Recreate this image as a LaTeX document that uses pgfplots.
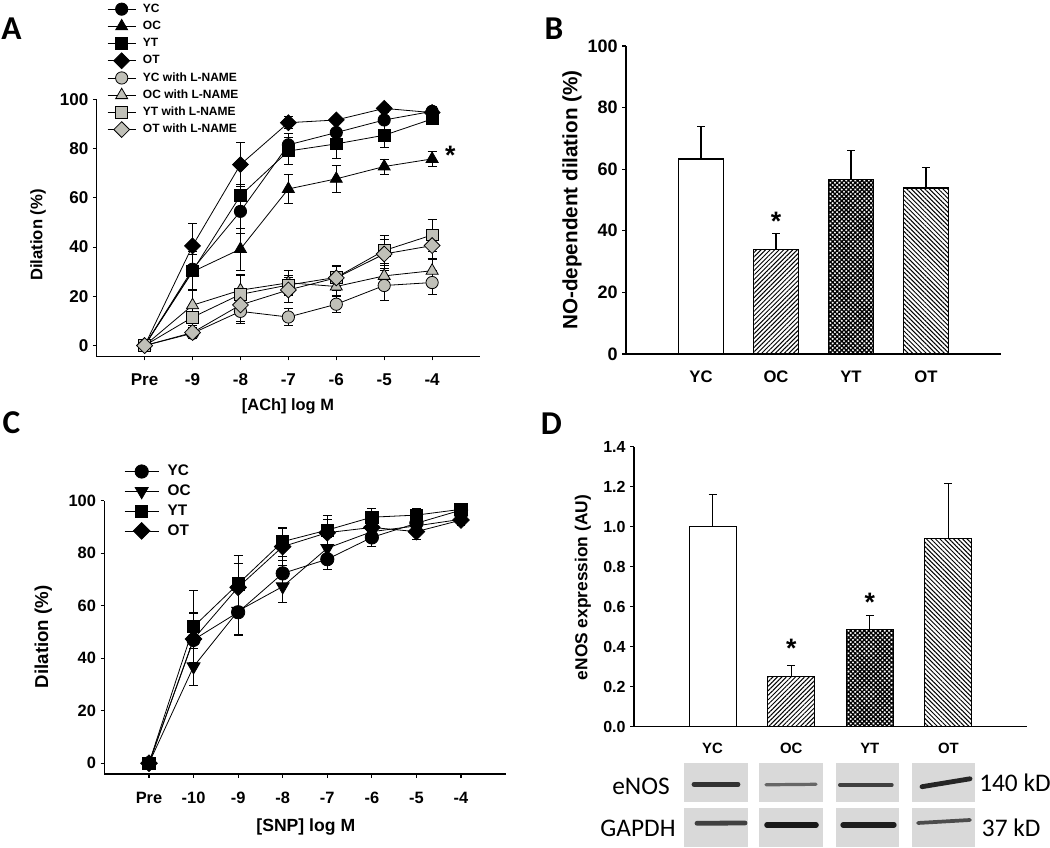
\documentclass[border=0pt]{standalone}
\usepackage{pgfplots}
\pgfplotsset{compat=1.18}
\usepackage{fontspec}
\setmainfont{Liberation Sans}
\newfontfamily\calfont{Carlito}
\usetikzlibrary{patterns.meta}
\definecolor{mg}{RGB}{192,192,184}
\newcommand\fs[1]{\fontsize{#1}{#1}\selectfont}

\pgfplotsset{
 sig/.style={scale only axis, anchor=south west, clip=false,
   axis x line=bottom, axis y line=left,
   axis line style={-, line width=0.9pt, black},
   tick align=outside, major tick length=2.8pt,
   tick style={black, line width=0.8pt},
   legend cell align=left,
 },
 eb/.style={/pgfplots/error bars/y dir=both, /pgfplots/error bars/y explicit,
   /pgfplots/error bars/error bar style={line width=0.6pt, black},
   /pgfplots/error bars/error mark options={rotate=90, mark size=3.3pt, line width=0.6pt, black}},
 ebp/.style={/pgfplots/error bars/y dir=plus, /pgfplots/error bars/y explicit,
   /pgfplots/error bars/error bar style={line width=0.8pt, black},
   /pgfplots/error bars/error mark options={rotate=90, mark size=3pt, line width=0.8pt, black}},
}

\begin{document}
\begin{tikzpicture}
\path[use as bounding box] (0pt,0pt) rectangle (787.5pt,636pt);

% ---------------- Panel A ----------------
\begin{axis}[sig, at={(72.525pt,368.475pt)}, width=287.5pt, height=193.05pt,
 xmin=-1, xmax=7, ymin=-4.5, ymax=100,
 xtick={0,...,6}, xticklabels={Pre,-9,-8,-7,-6,-5,-4},
 ytick={0,20,40,60,80,100}, yticklabels={0,20,40,60,80,100},
 tick label style={font=\bfseries\fs{12.8}},
 xticklabel shift=6.3pt,
 xlabel={[ACh] log M}, ylabel={Dilation (\%)},
 xlabel style={font=\bfseries\fs{12.3}, at={(axis description cs:0.499,-0.194)}, anchor=center},
 ylabel style={font=\bfseries\fs{12.5}, at={(axis description cs:-0.153,0.473)}, anchor=center},
 legend style={at={(0.0269,1.375)}, anchor=north west, draw=none, fill=none,
   inner sep=0pt, font=\bfseries\fs{9}, row sep={12.9pt,between origins},
   column sep={26.25pt,between origins}, nodes={inner sep=0pt}},
 legend image code/.code={\draw[mark repeat=2,mark phase=2,#1] plot coordinates {(0pt,0pt) (10.5pt,0pt) (21pt,0pt)};},
]
\addplot[black, line width=0.6pt, mark=*, mark size=4.6pt, mark options={fill=black, draw=black}, eb]
 coordinates {(0,0) +- (0,0) (1,31.0) +- (0,8) (2,54.5) +- (0,9) (3,81.5) +- (0,4.5) (4,86.5) +- (0,5) (5,91.6) +- (0,4) (6,95.1) +- (0,2)};
\addplot[black, line width=0.6pt, mark=triangle*, mark size=5.2pt, mark options={fill=black, draw=black}, eb]
 coordinates {(0,0) +- (0,0) (1,30.0) +- (0,7) (2,39.2) +- (0,8.5) (3,63.6) +- (0,6) (4,67.7) +- (0,5.5) (5,72.7) +- (0,3) (6,75.8) +- (0,3)};
\addplot[black, line width=0.6pt, mark=square*, mark size=4.4pt, mark options={fill=black, draw=black}, eb]
 coordinates {(0,0) +- (0,0) (1,30.3) +- (0,8) (2,60.9) +- (0,4.5) (3,79.0) +- (0,5.5) (4,81.9) +- (0,6) (5,85.4) +- (0,5) (6,92.0) +- (0,2)};
\addplot[black, line width=0.6pt, mark=square*, mark size=4.2pt, mark options={rotate=45, fill=black, draw=black}, eb]
 coordinates {(0,0) +- (0,0) (1,40.5) +- (0,9) (2,73.5) +- (0,9) (3,90.5) +- (0,2.5) (4,91.6) +- (0,1.5) (5,96.3) +- (0,1.5) (6,94.6) +- (0,1.5)};
\addplot[black, line width=0.6pt, mark=*, mark size=4.6pt, mark options={fill=mg, draw=black}, eb]
 coordinates {(0,0) +- (0,0) (1,5.0) +- (0,2) (2,13.9) +- (0,5) (3,11.6) +- (0,3.5) (4,16.8) +- (0,3.5) (5,24.4) +- (0,6) (6,25.6) +- (0,5)};
\addplot[black, line width=0.6pt, mark=triangle*, mark size=5.2pt, mark options={fill=mg, draw=black}, eb]
 coordinates {(0,0) +- (0,0) (1,16.4) +- (0,6) (2,22.5) +- (0,6) (3,25.5) +- (0,5) (4,24.0) +- (0,4) (5,28.3) +- (0,5) (6,30.4) +- (0,5)};
\addplot[black, line width=0.6pt, mark=square*, mark size=4.4pt, mark options={fill=mg, draw=black}, eb]
 coordinates {(0,0) +- (0,0) (1,11.5) +- (0,3.5) (2,20.8) +- (0,8) (3,24.6) +- (0,4) (4,27.7) +- (0,4.5) (5,38.6) +- (0,6) (6,44.9) +- (0,6.5)};
\addplot[black, line width=0.6pt, mark=square*, mark size=4.2pt, mark options={rotate=45, fill=mg, draw=black}, eb]
 coordinates {(0,0) +- (0,0) (1,5.3) +- (0,2) (2,16.5) +- (0,6.5) (3,22.6) +- (0,5) (4,27.5) +- (0,5) (5,37.2) +- (0,6) (6,40.6) +- (0,5.5)};
\legend{YC,OC,YT,OT,YC with L-NAME,OC with L-NAME,YT with L-NAME,OT with L-NAME}
\node[font=\bfseries\fs{20}, anchor=north, yshift=6.5pt] at (axis cs:6.38,79.4) {*};
\end{axis}

% ---------------- Panel B ----------------
\begin{axis}[sig, at={(469.5pt,370.5pt)}, width=281.25pt, height=231pt,
 xmin=-1, xmax=4, ymin=0, ymax=100,
 xtick={0,1,2,3}, xticklabels={YC,OC,YT,OT}, xtick style={draw=none},
 ytick={0,20,40,60,80,100}, yticklabels={0,20,40,60,80,100},
 xticklabel style={font=\bfseries\fs{12.5}},
 yticklabel style={font=\bfseries\fs{13.5}},
 xticklabel shift=6.5pt,
 ylabel={NO-dependent dilation (\%)},
 label style={font=\bfseries\fs{15.5}},
 ylabel style={at={(axis description cs:-0.144,0.5)}, anchor=center},
]
\addplot[ybar, bar width=33.75pt, bar shift=0pt, draw=black, line width=0.8pt, fill=white, ebp]
 coordinates {(0,63.3) +- (0,10.5)};
\addplot[ybar, bar width=33.75pt, bar shift=0pt, draw=black, line width=0.8pt,
 pattern={Lines[angle=45,distance=2.4pt,line width=0.75pt]}, ebp]
 coordinates {(1,34.0) +- (0,5.0)};
\addplot[ybar, bar width=33.75pt, bar shift=0pt, draw=black, line width=0.8pt,
 pattern={Hatch[angle=45,distance=2.4pt,line width=1pt]}, ebp]
 coordinates {(2,56.5) +- (0,9.5)};
\addplot[ybar, bar width=33.75pt, bar shift=0pt, draw=black, line width=0.8pt,
 pattern={Lines[angle=-45,distance=2.4pt,line width=0.75pt]}, ebp]
 coordinates {(3,53.9) +- (0,6.6)};
\node[font=\bfseries\fs{20}, anchor=north, yshift=6.5pt] at (axis cs:1,44.8) {*};
\end{axis}

% ---------------- Panel C ----------------
\begin{axis}[sig, at={(78.3pt,55.5pt)}, width=300.9pt, height=205pt,
 xmin=-1, xmax=8, ymin=-4.1, ymax=100,
 xtick={0,...,7}, xticklabels={Pre,-10,-9,-8,-7,-6,-5,-4},
 ytick={0,20,40,60,80,100}, yticklabels={0,20,40,60,80,100},
 tick label style={font=\bfseries\fs{12.3}},
 xticklabel shift=7.5pt,
 xlabel={[SNP] log M}, ylabel={Dilation (\%)},
 xlabel style={font=\bfseries\fs{13.2}, at={(axis description cs:0.502,-0.194)}, anchor=center},
 ylabel style={font=\bfseries\fs{14}, at={(axis description cs:-0.152,0.502)}, anchor=center},
 legend style={at={(0.0489,1.132)}, anchor=north west, draw=none, fill=none,
   inner sep=0pt, font=\bfseries\fs{11.5}, row sep={14.85pt,between origins},
   column sep={32pt,between origins}, nodes={inner sep=0pt}},
 legend image code/.code={\draw[mark repeat=2,mark phase=2,#1] plot coordinates {(0pt,0pt) (12.75pt,0pt) (25.5pt,0pt)};},
]
\addplot[black, line width=0.6pt, mark=*, mark size=5pt, mark options={fill=black, draw=black}, eb]
 coordinates {(0,0) +- (0,0) (1,47.0) +- (0,10) (2,57.5) +- (0,9) (3,72.3) +- (0,5) (4,77.7) +- (0,4) (5,86.0) +- (0,3.5) (6,91.4) +- (0,2.5) (7,96.4) +- (0,1.5)};
\addplot[black, line width=0.6pt, mark=triangle*, mark size=5.6pt, mark options={rotate=180, fill=black, draw=black}, eb]
 coordinates {(0,0) +- (0,0) (1,36.8) +- (0,7) (2,58.0) +- (0,9) (3,67.3) +- (0,6) (4,81.9) +- (0,4) (5,88.2) +- (0,3) (6,90.4) +- (0,3) (7,92.9) +- (0,2)};
\addplot[black, line width=0.6pt, mark=square*, mark size=4.6pt, mark options={fill=black, draw=black}, eb]
 coordinates {(0,0) +- (0,0) (1,52.0) +- (0,13.7) (2,68.3) +- (0,11) (3,84.4) +- (0,5.5) (4,88.8) +- (0,5.5) (5,93.7) +- (0,3.5) (6,94.5) +- (0,2.5) (7,96.7) +- (0,1.5)};
\addplot[black, line width=0.6pt, mark=square*, mark size=4.4pt, mark options={rotate=45, fill=black, draw=black}, eb]
 coordinates {(0,0) +- (0,0) (1,47.3) +- (0,10) (2,67.0) +- (0,9) (3,82.5) +- (0,7) (4,87.8) +- (0,5) (5,89.8) +- (0,3) (6,88.2) +- (0,3) (7,92.6) +- (0,2)};
\legend{YC,OC,YT,OT}
\end{axis}

% ---------------- Panel D ----------------
\begin{axis}[sig, at={(475.5pt,90.975pt)}, width=294.75pt, height=210pt,
 xmin=-1, xmax=4, ymin=0, ymax=1.4,
 xtick={0,1,2,3}, xticklabels={YC,OC,YT,OT}, xtick style={draw=none},
 ytick={0,0.2,0.4,0.6,0.8,1.0,1.2,1.4}, yticklabels={0.0,0.2,0.4,0.6,0.8,1.0,1.2,1.4},
 xticklabel style={font=\bfseries\fs{11.2}},
 yticklabel style={font=\bfseries\fs{12}},
 xticklabel shift=6pt,
 ylabel={eNOS expression (AU)},
 label style={font=\bfseries\fs{13}},
 ylabel style={at={(axis description cs:-0.13,0.497)}, anchor=center},
]
\addplot[ybar, bar width=35.25pt, bar shift=0pt, draw=black, line width=0.8pt, fill=white, ebp]
 coordinates {(0,1.0) +- (0,0.16)};
\addplot[ybar, bar width=35.25pt, bar shift=0pt, draw=black, line width=0.8pt,
 pattern={Lines[angle=45,distance=2.4pt,line width=0.75pt]}, ebp]
 coordinates {(1,0.253) +- (0,0.055)};
\addplot[ybar, bar width=35.25pt, bar shift=0pt, draw=black, line width=0.8pt,
 pattern={Hatch[angle=45,distance=2.4pt,line width=1pt]}, ebp]
 coordinates {(2,0.487) +- (0,0.068)};
\addplot[ybar, bar width=35.25pt, bar shift=0pt, draw=black, line width=0.8pt,
 pattern={Lines[angle=-45,distance=2.4pt,line width=0.75pt]}, ebp]
 coordinates {(3,0.94) +- (0,0.275)};
\node[font=\bfseries\fs{20}, anchor=north, yshift=6.5pt] at (axis cs:1,0.417) {*};
\node[font=\bfseries\fs{20}, anchor=north, yshift=6.5pt] at (axis cs:2,0.647) {*};
\end{axis}

% ---------------- Western blot strips (pixel grid, y downwards) ----------------
\begin{scope}[x=0.75pt, y=-0.75pt, shift={(0pt,636pt)}]
\foreach \xa/\xb in {684/747.7, 759.3/822.7, 836/899, 912/975.3} {
  \fill[black!15] (\xa,763.3) rectangle (\xb,801.7);
  \fill[black!15] (\xa,808.3) rectangle (\xb,846.7);
}
\begin{scope}[line cap=round]
\draw[black!80, line width=3.6pt] (694,784.3) -- (738,784.3);
\draw[black!60, line width=2.4pt] (766,784.8) -- (816,784.3);
\draw[black!75, line width=3pt] (840,785) -- (891.7,785);
\draw[black!85, line width=3.6pt] (922,786.7) -- (970,778.8);
\draw[black!75, line width=3.6pt] (697,823.3) -- (745,823);
\draw[black!90, line width=4.2pt] (767,825) -- (816,825);
\draw[black!88, line width=4pt] (843,825) -- (894,825);
\draw[black!70, line width=2.8pt] (918,823) -- (970,820);
\end{scope}
\node[font=\calfont\fs{19}] at (641,786.7) {eNOS};
\node[font=\calfont\fs{19}] at (638,828.3) {GAPDH};
\node[font=\calfont\fs{19}, anchor=west, inner sep=0pt] at (979,783) {140 kD};
\node[font=\calfont\fs{19}, anchor=west, inner sep=0pt] at (981.7,828) {37 kD};
\node[font=\calfont\bfseries\fs{25}] at (11.5,29) {A};
\node[font=\calfont\bfseries\fs{25}] at (554,28.5) {B};
\node[font=\calfont\bfseries\fs{25}] at (11.5,423) {C};
\node[font=\calfont\bfseries\fs{25}] at (551.5,424) {D};
\end{scope}
\end{tikzpicture}
\end{document}
